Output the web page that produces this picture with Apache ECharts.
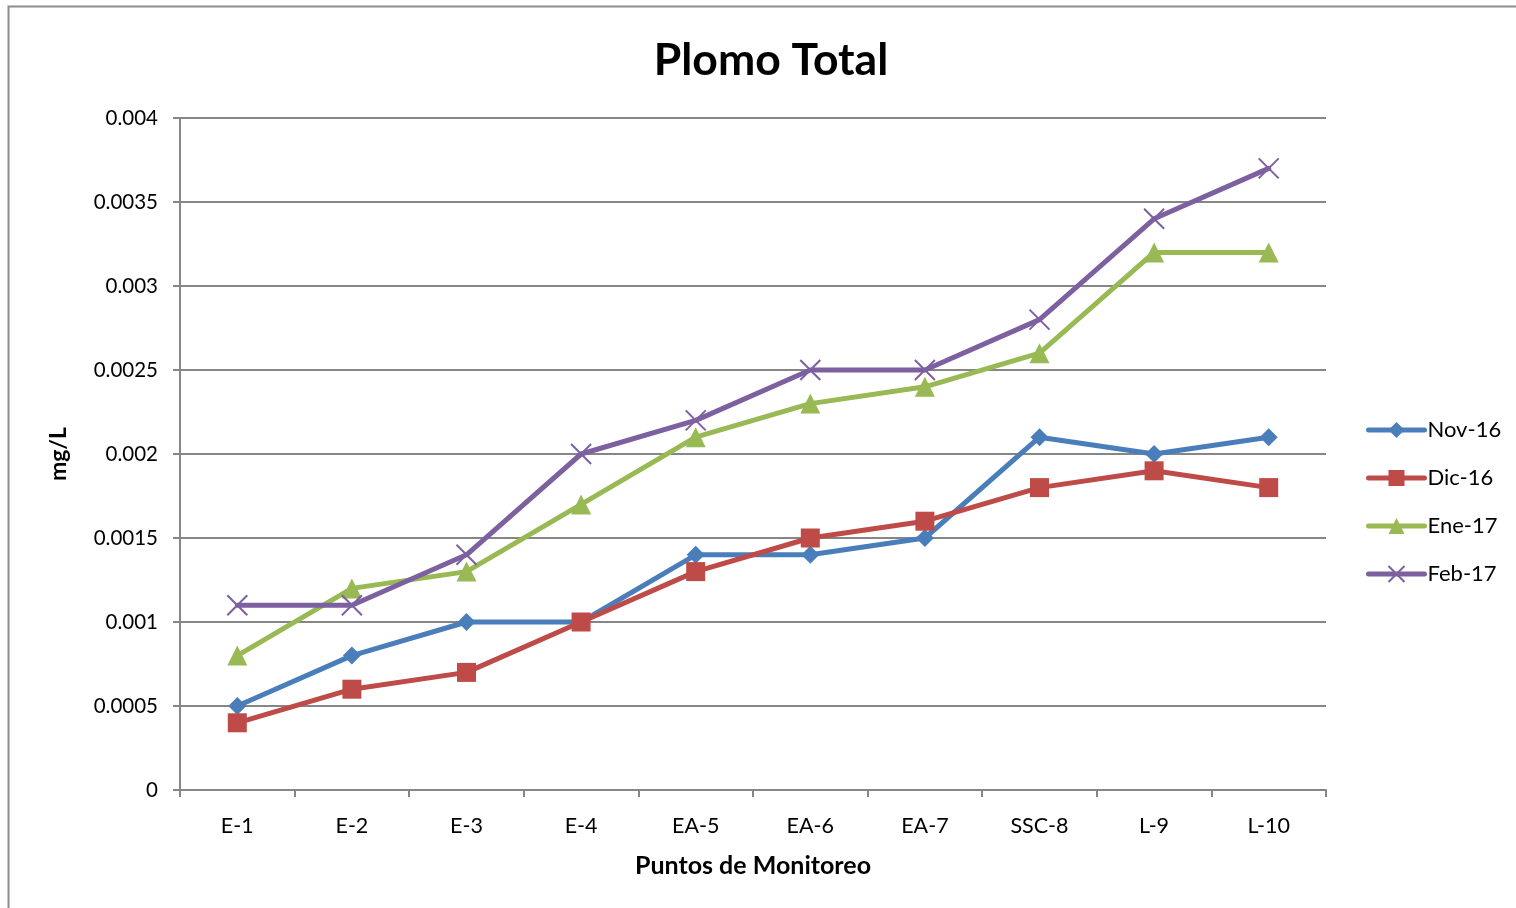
<!DOCTYPE html>
<html>
<head>
<meta charset="utf-8">
<script src="https://cdn.jsdelivr.net/npm/echarts@6/dist/echarts.min.js"></script>
<style>
  html, body { margin: 0; padding: 0; background: #fff; }
  #chart { width: 1516px; height: 908px; }
</style>
</head>
<body>
<div id="chart"></div>
<script>
// Monitoring points along the x axis
const categories = ['E-1', 'E-2', 'E-3', 'E-4', 'EA-5', 'EA-6', 'EA-7', 'SSC-8', 'L-9', 'L-10'];

// Total lead concentration (mg/L) per sampling month
const nov16 = [0.0005, 0.0008, 0.0010, 0.0010, 0.0014, 0.0014, 0.0015, 0.0021, 0.0020, 0.0021];
const dic16 = [0.0004, 0.0006, 0.0007, 0.0010, 0.0013, 0.0015, 0.0016, 0.0018, 0.0019, 0.0018];
const ene17 = [0.0008, 0.0012, 0.0013, 0.0017, 0.0021, 0.0023, 0.0024, 0.0026, 0.0032, 0.0032];
const feb17 = [0.0011, 0.0011, 0.0014, 0.0020, 0.0022, 0.0025, 0.0025, 0.0028, 0.0034, 0.0037];

const seriesNames = ['Nov-16', 'Dic-16', 'Ene-17', 'Feb-17'];

const FONT = 'Lato, "Open Sans", sans-serif';
const crossPath = 'path://M0,0 L10,10 M10,0 L0,10';

const chart = echarts.init(document.getElementById('chart'), null, { renderer: 'canvas' });

function lineSeries(name, data, color, symbol, size, extra) {
  return Object.assign({
    name: name,
    type: 'line',
    data: data,
    symbol: symbol,
    symbolSize: size,
    showAllSymbol: true,
    lineStyle: { color: color, width: 5, cap: 'round' },
    itemStyle: { color: color },
    emphasis: { disabled: true },
    animation: false,
    z: 3
  }, extra || {});
}

chart.setOption({
  backgroundColor: '#fff',
  graphic: [{
    type: 'rect',
    shape: { x: 8.5, y: 6.5, width: 1600, height: 1000 },
    style: { fill: 'none', stroke: '#8c8c8c', lineWidth: 2 },
    silent: true
  }],
  title: {
    text: 'Plomo Total',
    left: 766,
    top: 33,
    textAlign: 'center',
    textStyle: { fontFamily: FONT, fontSize: 44.5, fontWeight: 'bold', color: '#000' }
  },
  legend: {
    orient: 'vertical',
    left: 1366,
    top: 419,
    padding: 0,
    itemWidth: 56,
    itemHeight: 20,
    itemGap: 26,
    data: seriesNames,
    lineStyle: { width: 5, cap: 'round' },
    textStyle: { fontFamily: FONT, fontSize: 22, color: '#000', padding: [0, 0, 0, -2] }
  },
  grid: { left: 180, right: 190, top: 118, bottom: 118, containLabel: false },
  xAxis: {
    type: 'category',
    data: categories,
    boundaryGap: true,
    name: 'Puntos de Monitoreo',
    nameLocation: 'middle',
    nameGap: 63,
    nameTextStyle: { fontFamily: FONT, fontSize: 25, fontWeight: 'bold', color: '#000' },
    axisLine: { lineStyle: { color: '#868686', width: 2 } },
    axisTick: { show: true, alignWithLabel: false, length: 7, lineStyle: { color: '#868686', width: 2 } },
    axisLabel: { fontFamily: FONT, fontSize: 21.5, color: '#000', margin: 25 },
    splitLine: { show: false }
  },
  yAxis: {
    type: 'value',
    min: 0,
    max: 0.004,
    interval: 0.0005,
    name: 'mg/L',
    nameLocation: 'middle',
    nameGap: 110,
    nameRotate: 90,
    nameTextStyle: { fontFamily: FONT, fontSize: 23, fontWeight: 'bold', color: '#000' },
    axisLine: { show: true, lineStyle: { color: '#868686', width: 2 } },
    axisTick: { show: true, length: 7, lineStyle: { color: '#868686', width: 2 } },
    axisLabel: {
      fontFamily: FONT, fontSize: 20.5, color: '#000', margin: 22,
      formatter: v => (v === 0 ? '0' : String(+v.toFixed(4)))
    },
    splitLine: { show: true, lineStyle: { color: '#868686', width: 2 } }
  },
  series: [
    lineSeries('Nov-16', nov16, '#4A7EBB', 'diamond', 18),
    lineSeries('Dic-16', dic16, '#BE4B48', 'rect', 19),
    lineSeries('Ene-17', ene17, '#98B954', 'triangle', 20),
    lineSeries('Feb-17', feb17, '#7D60A0', crossPath, 20, {
      itemStyle: { color: 'none', borderColor: '#7D60A0', borderWidth: 2 }
    })
  ]
});
</script>
</body>
</html>
